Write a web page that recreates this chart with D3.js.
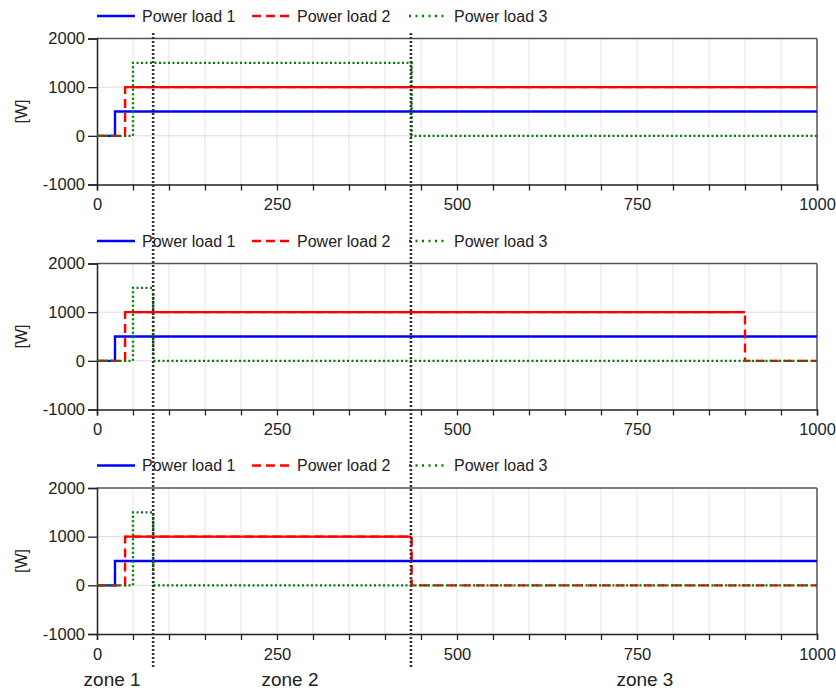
<!DOCTYPE html>
<html lang="en">
<head>
    <meta charset="UTF-8">
    <title>Power loads per zone</title>
    <style>
        body { margin: 0; background: #fff; }
        text { font-family: "Liberation Sans", Arial, sans-serif; fill: #222; }
    </style>
</head>
<body>
<svg id="svgId"></svg>
<script src="https://cdn.jsdelivr.net/npm/d3@7/dist/d3.min.js"></script>
<script>

    // Chart data (step points [time, watts])
    const seriesNames = ['Power load 1', 'Power load 2', 'Power load 3']
    const xTicks = [0, 250, 500, 750, 1000]
    const yTicks = [-1000, 0, 1000, 2000]

    const panel1Load1 = [[0, 0], [25, 500], [1000, 500]]
    const panel1Load2 = [[0, 0], [39, 1000], [1000, 1000]]
    const panel1Load3 = [[0, 0], [50, 1500], [437, 0], [1000, 0]]

    const panel2Load1 = [[0, 0], [25, 500], [1000, 500]]
    const panel2Load2 = [[0, 0], [39, 1000], [900, 0], [1000, 0]]
    const panel2Load3 = [[0, 0], [50, 1500], [78, 0], [1000, 0]]

    const panel3Load1 = [[0, 0], [25, 500], [1000, 500]]
    const panel3Load2 = [[0, 0], [39, 1000], [437, 0], [1000, 0]]
    const panel3Load3 = [[0, 0], [50, 1500], [78, 0], [1000, 0]]

    const zoneBounds = [78, 436]
    const zoneNames = ['zone 1', 'zone 2', 'zone 3']
    const zoneLabelX = [21, 268, 761]

    const panels = [
        [panel1Load1, panel1Load2, panel1Load3],
        [panel2Load1, panel2Load2, panel2Load3],
        [panel3Load1, panel3Load2, panel3Load3]
    ]

    // Layout
    const svgWidth = 836
    const svgHeight = 690
    const left = 97, right = 817
    const panelTops = [38.5, 263.5, 488]
    const panelHeight = 146

    const colors = ['#0000ff', '#ff0000', '#008000']
    const dashes = [null, '9,5', '2,2.5']
    const legendDashes = [null, '9,5', '2,4.5']
    const legendX = [97, 252, 409]
    const fontFamily = '"Liberation Sans", Arial, sans-serif'

    const svg = d3.select('#svgId')
        .attr('width', svgWidth)
        .attr('height', svgHeight)

    const xScale = d3.scaleLinear().domain([0, 1000]).range([left, right])

    panels.forEach((series, pi) => {
        const top = panelTops[pi]
        const yScale = d3.scaleLinear().domain([-1000, 2000]).range([top + panelHeight, top])
        const g = svg.append('g')

        // grid
        g.append('g').selectAll('line')
            .data(d3.range(50, 1000, 50)).enter()
            .append('line')
            .attr('x1', d => xScale(d)).attr('x2', d => xScale(d))
            .attr('y1', top).attr('y2', top + panelHeight)
            .attr('stroke', '#e4e4e4').attr('stroke-width', 1)
        g.append('g').selectAll('line')
            .data([0, 1000]).enter()
            .append('line')
            .attr('x1', left).attr('x2', right)
            .attr('y1', d => yScale(d)).attr('y2', d => yScale(d))
            .attr('stroke', '#dcdcdc').attr('stroke-width', 1)

        // frame top/right
        g.append('line').attr('x1', left).attr('x2', right).attr('y1', top).attr('y2', top)
            .attr('stroke', '#555').attr('stroke-width', 1.5)
        g.append('line').attr('x1', right).attr('x2', right).attr('y1', top).attr('y2', top + panelHeight)
            .attr('stroke', '#555').attr('stroke-width', 1.5)

        // axes
        const xAxis = g.append('g')
            .attr('transform', `translate(0, ${top + panelHeight})`)
            .call(d3.axisBottom(xScale).tickValues(d3.range(0, 1001, 50)).tickSize(6).tickPadding(8)
                .tickFormat(d => xTicks.includes(d) ? String(d) : ''))
        xAxis.select('.domain').attr('stroke', '#222').attr('stroke-width', 1.5)
        xAxis.selectAll('.tick line').attr('stroke', '#222').attr('stroke-width', 1.3)
        xAxis.selectAll('text').style('font-size', '16.5px').attr('fill', '#222')
            .attr('font-family', fontFamily)

        const yAxis = g.append('g')
            .attr('transform', `translate(${left}, 0)`)
            .call(d3.axisLeft(yScale).tickValues(yTicks).tickSize(9).tickPadding(3)
                .tickFormat(d => String(d)))
        yAxis.select('.domain').attr('stroke', '#222').attr('stroke-width', 1.5)
        yAxis.selectAll('.tick line').attr('stroke', '#222').attr('stroke-width', 1.3)
        yAxis.selectAll('text').style('font-size', '16.5px').attr('fill', '#222')
            .attr('font-family', fontFamily)

        g.append('text')
            .attr('transform', `translate(27, ${top + panelHeight / 2}) rotate(-90)`)
            .attr('text-anchor', 'middle')
            .style('font-size', '16px')
            .text('[W]')

        // series
        const line = d3.line().x(d => xScale(d[0])).y(d => yScale(d[1])).curve(d3.curveStepAfter)
        series.forEach((s, si) => {
            g.append('path')
                .datum(s)
                .attr('fill', 'none')
                .attr('stroke', colors[si])
                .attr('stroke-width', 2.4)
                .attr('stroke-dasharray', dashes[si])
                .attr('d', line)
        })

        // the long raised level of load 2 renders solid in the original
        const s2 = series[1]
        for (let k = 0; k < s2.length - 1; k++) {
            if (s2[k][1] !== 0) {
                g.append('line')
                    .attr('x1', xScale(s2[k][0])).attr('x2', xScale(s2[k + 1][0]))
                    .attr('y1', yScale(s2[k][1])).attr('y2', yScale(s2[k][1]))
                    .attr('stroke', colors[1]).attr('stroke-width', 2.4)
            }
        }

        // legend
        const ly = top - 22.5
        seriesNames.forEach((name, si) => {
            g.append('line')
                .attr('x1', legendX[si]).attr('x2', legendX[si] + 38)
                .attr('y1', ly).attr('y2', ly)
                .attr('stroke', colors[si]).attr('stroke-width', 2.4)
                .attr('stroke-dasharray', legendDashes[si])
            g.append('text')
                .attr('x', legendX[si] + 45)
                .attr('y', ly)
                .attr('dy', '0.35em')
                .style('font-size', '16px')
                .text(name)
        })
    })

    // zone boundaries
    svg.append('g').selectAll('line')
        .data(zoneBounds).enter()
        .append('line')
        .attr('x1', d => xScale(d)).attr('x2', d => xScale(d))
        .attr('y1', 33).attr('y2', 668)
        .attr('stroke', '#333').attr('stroke-width', 2.6)
        .attr('stroke-dasharray', '2,2')

    svg.append('g').selectAll('text')
        .data(zoneNames).enter()
        .append('text')
        .attr('x', (d, i) => xScale(zoneLabelX[i]))
        .attr('y', 686)
        .attr('text-anchor', 'middle')
        .style('font-size', '19px')
        .text(d => d)

</script>
</body>
</html>
